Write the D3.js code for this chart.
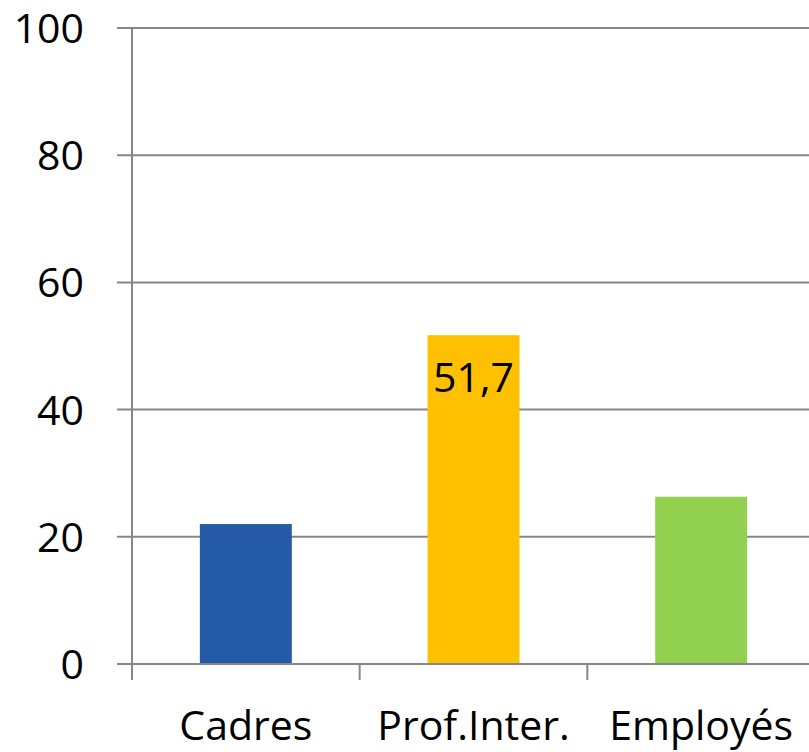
<!DOCTYPE html>
<html>
<head>
  <meta charset="utf-8">
  <style>
    body { margin: 0; background: #fff; }
    text { font-family: "Open Sans", sans-serif; fill: #000; font-size: 41px; }
    .grid line, .axis line { stroke: #878787; stroke-width: 2px; }
  </style>
</head>
<body>
  <svg id="chart" width="809" height="752"></svg>

  <script src="https://d3js.org/d3.v7.min.js"></script>
  <script>
    // Data
    const categories = ["Cadres", "Prof.Inter.", "Employés"];
    const values = [22.0, 51.7, 26.3];
    const colors = ["#245AA8", "#FFC000", "#92D050"];
    const yTicks = [0, 20, 40, 60, 80, 100];
    const labelled = [false, true, false];

    const svg = d3.select("#chart");
    const plotLeft = 132, plotRight = 815, plotTop = 28, plotBottom = 664;

    const x = d3.scaleBand()
      .domain(categories)
      .range([plotLeft, plotRight])
      .paddingInner(0.596)
      .paddingOuter(0.298);

    const y = d3.scaleLinear().domain([0, 100]).range([plotBottom, plotTop]);

    // Horizontal gridlines (with short ticks left of the axis)
    svg.append("g").attr("class", "grid")
      .selectAll("line")
      .data(yTicks)
      .enter().append("line")
      .attr("x1", plotLeft - 15)
      .attr("x2", 809)
      .attr("y1", d => y(d))
      .attr("y2", d => y(d));

    // Y tick labels
    svg.append("g")
      .selectAll("text")
      .data(yTicks)
      .enter().append("text")
      .attr("x", 84)
      .attr("y", d => y(d) + 15)
      .attr("text-anchor", "end")
      .text(d => d);

    // Bars
    svg.append("g")
      .selectAll("rect")
      .data(values)
      .enter().append("rect")
      .attr("x", (d, i) => x(categories[i]))
      .attr("width", x.bandwidth())
      .attr("y", d => y(d))
      .attr("height", d => y(0) - y(d))
      .attr("fill", (d, i) => colors[i]);

    // Axes lines and category ticks
    const axis = svg.append("g").attr("class", "axis");
    axis.append("line")
      .attr("x1", plotLeft).attr("x2", plotLeft)
      .attr("y1", plotTop).attr("y2", plotBottom + 16);
    axis.append("line")
      .attr("x1", plotLeft - 15).attr("x2", 809)
      .attr("y1", y(0)).attr("y2", y(0));
    axis.selectAll(".xtick")
      .data(categories.slice(1))
      .enter().append("line")
      .attr("class", "xtick")
      .attr("x1", d => x(d) - x.step() * x.paddingInner() / 2)
      .attr("x2", d => x(d) - x.step() * x.paddingInner() / 2)
      .attr("y1", plotBottom)
      .attr("y2", plotBottom + 16);

    // Category labels
    svg.append("g")
      .selectAll("text")
      .data(categories)
      .enter().append("text")
      .attr("x", d => x(d) + x.bandwidth() / 2)
      .attr("y", 740)
      .attr("text-anchor", "middle")
      .text(d => d);

    // Data label
    svg.append("g")
      .selectAll("text")
      .data(values.filter((d, i) => labelled[i]))
      .enter().append("text")
      .attr("x", x(categories[1]) + x.bandwidth() / 2)
      .attr("y", d => y(d) + 57)
      .attr("text-anchor", "middle")
      .text(d => d3.format(".1f")(d).replace(".", ","));
  </script>
</body>
</html>
